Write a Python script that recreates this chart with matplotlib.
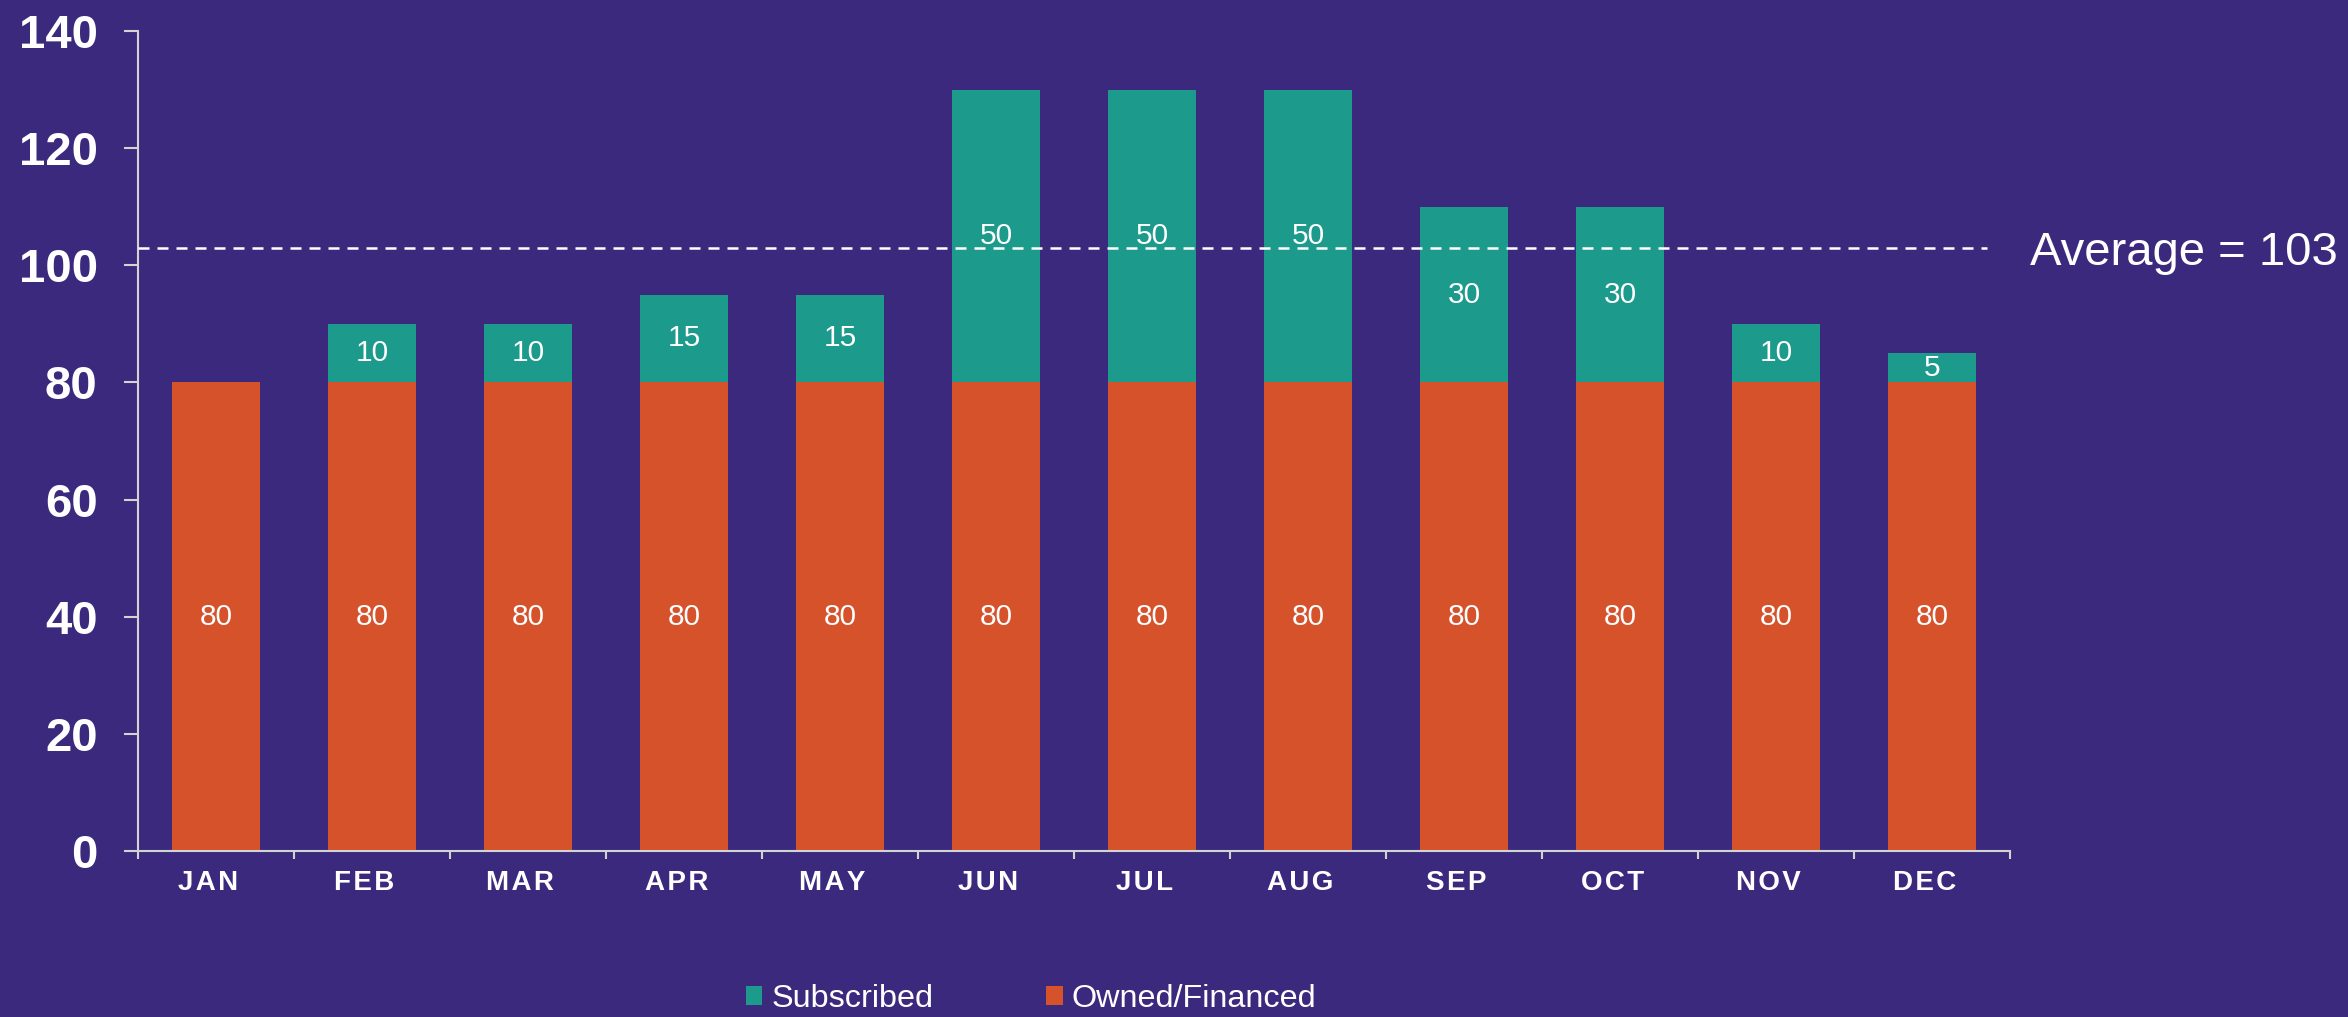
import matplotlib
matplotlib.use("Agg")
import matplotlib.pyplot as plt
from matplotlib.patches import Patch
from matplotlib.ticker import FixedLocator

months = ["JAN", "FEB", "MAR", "APR", "MAY", "JUN", "JUL", "AUG", "SEP", "OCT", "NOV", "DEC"]
owned = [80, 80, 80, 80, 80, 80, 80, 80, 80, 80, 80, 80]
subscribed = [0, 10, 10, 15, 15, 50, 50, 50, 30, 30, 10, 5]
average = 103
yticks = [0, 20, 40, 60, 80, 100, 120, 140]

BG = "#3A297D"
ORANGE = "#D5522A"
TEAL = "#1C9A8B"
GRAY = "#D3D3D3"
FONT = ["Liberation Sans", "DejaVu Sans"]

plt.rcParams["font.family"] = FONT

fig = plt.figure(figsize=(23.48, 10.17), dpi=100, facecolor=BG)
ax = fig.add_axes([138 / 2348, 1 - 851 / 1017, (2010 - 138) / 2348, (851 - 31) / 1017])
ax.set_facecolor(BG)

x = list(range(len(months)))
b1 = ax.bar(x, owned, width=0.56, color=ORANGE, zorder=2)
b2 = ax.bar(x, subscribed, width=0.56, bottom=owned, color=TEAL, zorder=2)

ax.bar_label(b1, labels=[str(v) for v in owned], label_type="center",
             color="white", fontsize=21.5, zorder=4)
ax.bar_label(b2, labels=[str(v) if v else "" for v in subscribed], label_type="center",
             color="white", fontsize=21.5, zorder=4)

# average line
ax.hlines(average, -0.5, 11.35, colors="white", linewidth=1.8,
          linestyles=(0, (4.4, 3.2)), zorder=3)
ax.annotate(f"Average = {average}", xy=(11.5, average), xycoords="data",
            xytext=(14.5, -12.5), textcoords="offset points",
            ha="left", va="baseline", color="white", fontsize=34,
            annotation_clip=False)

ax.set_xlim(-0.5, 11.5)
ax.set_ylim(0, 140)
ax.set_yticks(yticks)
ax.set_yticklabels([str(v) for v in yticks], fontsize=34, fontweight="bold", color="white")
ax.tick_params(axis="y", direction="out", length=10, width=1.5, color=GRAY, pad=19)

ax.set_xticks(x)
ax.set_xticklabels(["\u200a".join(m) + "  " for m in months], fontsize=20, fontweight="bold",
                   color="white")
ax.xaxis.set_minor_locator(FixedLocator([i - 0.5 for i in range(len(months) + 1)]))
ax.tick_params(axis="x", which="major", length=0, pad=13.5)
ax.tick_params(axis="x", which="minor", direction="out", length=6, width=1.5, color=GRAY)

for s in ["top", "right"]:
    ax.spines[s].set_visible(False)
for s in ["left", "bottom"]:
    ax.spines[s].set_color(GRAY)
    ax.spines[s].set_linewidth(1.5)

handles = [Patch(facecolor=TEAL, edgecolor="none", label="Subscribed"),
           Patch(facecolor=ORANGE, edgecolor="none", label="Owned/Financed")]
leg = fig.legend(handles=handles, loc="center", bbox_to_anchor=(1031 / 2348, 1 - 999 / 1017),
                 ncol=2, frameon=False, fontsize=23.3, handlelength=0.5, handleheight=0.5,
                 handletextpad=0.28, columnspacing=3.5, borderpad=0, borderaxespad=0)
for t in leg.get_texts():
    t.set_color("white")

fig.savefig("out.png", dpi=100, facecolor=BG)
